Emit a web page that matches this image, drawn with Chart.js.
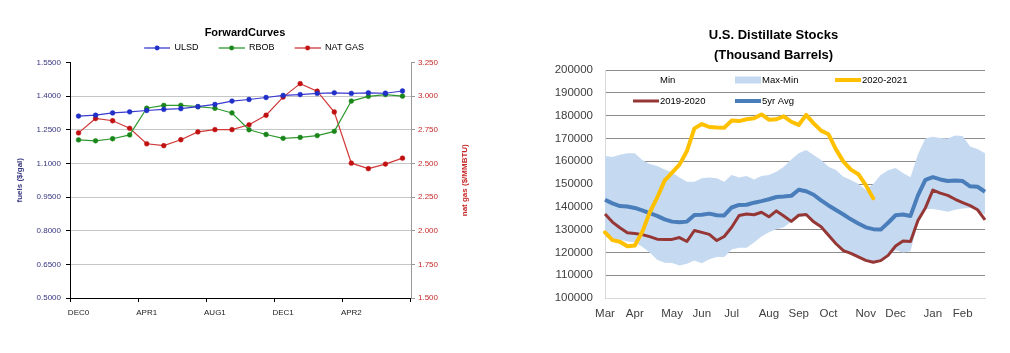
<!DOCTYPE html>
<html>
<head>
<meta charset="utf-8">
<script src="https://cdn.jsdelivr.net/npm/chart.js@4"></script>
<style>
  html, body { margin: 0; padding: 0; background: #fff; }
  body { width: 1010px; height: 353px; position: relative; overflow: hidden; }
  .box { position: absolute; top: 0; height: 353px; }
  #leftBox { left: 0; width: 490px; }
  #rightBox { left: 537px; width: 473px; }
</style>
</head>
<body>
<div class="box" id="leftBox"><canvas id="fwdChart"></canvas></div>
<div class="box" id="rightBox"><canvas id="stocksChart"></canvas></div>
<script>
// --- Forward curves (links) ---
const fwdMonths = ['DEC0', 'JAN1', 'FEB1', 'MAR1', 'APR1', 'MAY1', 'JUN1', 'JUL1', 'AUG1', 'SEP1',
                   'OCT1', 'NOV1', 'DEC1', 'JAN2', 'FEB2', 'MAR2', 'APR2', 'MAY2', 'JUN2', 'JUL2'];
const ulsd   = [1.311, 1.315, 1.325, 1.330, 1.336, 1.341, 1.344, 1.353, 1.363, 1.378,
                1.385, 1.394, 1.403, 1.407, 1.412, 1.415, 1.412, 1.415, 1.413, 1.423];
const rbob   = [1.205, 1.201, 1.210, 1.227, 1.346, 1.359, 1.359, 1.353, 1.346, 1.325,
                1.250, 1.229, 1.212, 1.216, 1.224, 1.243, 1.378, 1.399, 1.407, 1.400];
const natGas = [2.727, 2.834, 2.817, 2.761, 2.646, 2.632, 2.676, 2.734, 2.751, 2.751,
                2.787, 2.858, 2.993, 3.093, 3.037, 2.882, 2.502, 2.461, 2.495, 2.539];

// --- Distillate stocks (rechts), Wochenwerte ab Anfang März ---
const stockMonths    = ['Mar', 'Apr', 'May', 'Jun', 'Jul', 'Aug', 'Sep', 'Oct', 'Nov', 'Dec', 'Jan', 'Feb'];
const monthStartWeek = [0, 4, 9, 13, 17, 22, 26, 30, 35, 39, 44, 48];
const stocksMin = [127000, 126000, 125500, 124800, 124500, 122500, 120000, 116800, 115500, 115300,
                   114300, 115000, 116500, 115200, 117000, 118000, 118000, 121300, 122000, 122000,
                   124300, 127000, 128800, 130200, 131000, 133500, 135500, 136000, 133000, 131000,
                   127300, 123600, 120600, 119400, 117800, 116300, 115500, 116200, 118500, 121000,
                   120000, 120500, 133000, 139000, 139000, 138500, 137800, 138700, 139300, 139500,
                   138500, 136500];
const stocksMax = [162300, 161800, 162800, 163500, 163500, 160500, 158800, 157900, 156400, 155000,
                   152900, 151000, 151000, 152500, 152900, 152500, 151000, 153900, 152900, 153500,
                   152000, 153500, 153900, 155400, 157600, 160800, 163500, 164900, 162700, 160500,
                   157600, 156100, 153200, 151800, 150000, 147500, 150000, 154000, 156000, 157000,
                   154800, 153000, 163000, 170000, 170700, 170200, 170000, 171300, 171000, 166400,
                   165300, 163500];
const stocks2021 = [128800, 125400, 124700, 122700, 123000, 129000, 137500, 144000, 151500, 155000,
                    158500, 164500, 174400, 176300, 175000, 174800, 174700, 177800, 177600, 178400,
                    178800, 180500, 178200, 178400, 179700, 177300, 175900, 180300, 176600, 173400,
                    171800, 165200, 159800, 156300, 154300, 149500, 143700];
const stocks1920 = [136800, 133300, 130800, 128600, 128300, 127800, 126900, 125800, 125700, 125700,
                    126500, 124800, 129600, 128800, 127900, 125200, 127000, 131000, 136200, 136800,
                    136500, 137600, 135600, 138200, 136000, 133600, 136300, 136600, 133400, 131200,
                    127500, 123800, 120800, 119600, 118000, 116500, 115700, 116400, 118700, 122800,
                    125000, 124800, 134000, 139500, 147300, 146000, 145000, 143300, 141800, 140500,
                    138700, 134300];
const stocks5yr  = [143100, 141500, 140300, 140100, 139500, 138400, 137200, 136000, 134500, 133500,
                    133200, 133500, 136400, 136500, 137000, 136300, 136200, 139700, 140800, 140900,
                    141800, 142500, 143300, 144300, 144500, 144800, 147500, 146800, 145300, 142800,
                    140600, 138600, 136600, 134500, 132700, 131000, 130200, 130000, 133000, 136300,
                    136600, 136000, 145000, 151800, 153000, 152000, 151300, 151500, 151300, 149000,
                    148800, 146600];

Chart.defaults.font.family = "'Liberation Sans', Arial, sans-serif";
Chart.defaults.animation = false;
Chart.defaults.events = [];

const CLEAR = 'rgba(0,0,0,0)';

// Legendensymbol im Excel-Stil: Linie mit Punkt (links etwas Luft als Abstand)
function legendIcon(lineColor, dotColor) {
    const c = document.createElement('canvas');
    c.width = 44; c.height = 8;
    const g = c.getContext('2d');
    g.strokeStyle = lineColor;
    g.lineWidth = 1.3;
    g.beginPath(); g.moveTo(18, 4); g.lineTo(44, 4); g.stroke();
    g.fillStyle = dotColor;
    g.beginPath(); g.arc(31, 4, 2.4, 0, Math.PI * 2); g.fill();
    return c;
}

// Titel der rechten Achse, von unten nach oben gelesen wie links
const rightAxisTitle = {
    id: 'rightAxisTitle',
    afterDraw(chart, args, opts) {
        const { ctx, chartArea } = chart;
        ctx.save();
        ctx.translate(opts.x, (chartArea.top + chartArea.bottom) / 2);
        ctx.rotate(-Math.PI / 2);
        ctx.font = opts.font;
        ctx.fillStyle = opts.color;
        ctx.textAlign = 'center';
        ctx.textBaseline = 'middle';
        ctx.fillText(opts.text, 0, 0);
        ctx.restore();
    }
};

// Legende innerhalb der Zeichenfläche (zwei Zeilen, feste Spalten)
const insideLegend = {
    id: 'insideLegend',
    afterDraw(chart, args, opts) {
        const { ctx, chartArea } = chart;
        ctx.save();
        ctx.font = opts.font;
        ctx.textBaseline = 'middle';
        chart.data.datasets.forEach((ds, i) => {
            const x = chartArea.left + opts.columns[i % 3];
            const y = chartArea.top + opts.rows[Math.floor(i / 3)];
            if (ds.legendSymbol === 'box') {
                ctx.fillStyle = ds.backgroundColor;
                ctx.fillRect(x, y - 3.5, 26, 7);
            } else if (ds.legendSymbol === 'line') {
                ctx.strokeStyle = ds.borderColor;
                ctx.lineWidth = ds.borderWidth;
                ctx.beginPath(); ctx.moveTo(x, y); ctx.lineTo(x + 26, y); ctx.stroke();
            }
            ctx.fillStyle = opts.color;
            ctx.fillText(ds.label, x + 27, y + 0.5);
        });
        ctx.restore();
    }
};

const near = (a, b) => Math.abs(a - b) < 1e-6;

function drawForwardCurves() {
    const icons = [
        legendIcon('#3b3bd0', '#1f2fc8'),
        legendIcon('#2e9a2e', '#1a861a'),
        legendIcon('#d03838', '#c01010')
    ];

    new Chart(document.getElementById('fwdChart').getContext('2d'), {
        type: 'line',
        data: {
            labels: fwdMonths,
            datasets: [
                { label: 'ULSD', data: ulsd, yAxisID: 'y', borderColor: '#3b3bd0', borderWidth: 1.2,
                  pointRadius: 2.4, pointBackgroundColor: '#1f2fc8', pointBorderColor: '#1f2fc8', pointBorderWidth: 0.5 },
                { label: 'RBOB', data: rbob, yAxisID: 'y', borderColor: '#2e9a2e', borderWidth: 1.2,
                  pointRadius: 2.4, pointBackgroundColor: '#1a861a', pointBorderColor: '#1a861a', pointBorderWidth: 0.5 },
                { label: 'NAT GAS', data: natGas, yAxisID: 'y1', borderColor: '#d03838', borderWidth: 1.2,
                  pointRadius: 2.4, pointBackgroundColor: '#c01010', pointBorderColor: '#c01010', pointBorderWidth: 0.5 }
            ]
        },
        options: {
            responsive: true,
            maintainAspectRatio: false,
            layout: { padding: 0 },
            plugins: {
                tooltip: { enabled: false },
                legend: {
                    position: 'top',
                    title: { display: true, text: 'ForwardCurves', color: '#000',
                             font: { size: 11, weight: 'bold' }, padding: { top: 27.5, bottom: 0.8 } },
                    labels: {
                        usePointStyle: true,
                        pointStyleWidth: 44,
                        padding: 2,
                        color: '#000',
                        font: { size: 9 },
                        generateLabels: (chart) => {
                            const items = Chart.defaults.plugins.legend.labels.generateLabels(chart);
                            items.forEach(it => { it.pointStyle = icons[it.datasetIndex]; });
                            return items;
                        }
                    }
                },
                rightAxisTitle: { text: 'nat gas ($/MMBTU)', x: 465, color: '#c62828',
                                  font: "bold 8px 'Liberation Sans', Arial, sans-serif" }
            },
            scales: {
                x: {
                    type: 'category',
                    offset: true,
                    grid: {
                        offset: true, drawOnChartArea: false, tickLength: 4,
                        color: (c) => (c.index === undefined || c.index % 4 === 0) ? '#000' : CLEAR
                    },
                    border: { color: '#000' },
                    ticks: {
                        autoSkip: false, maxRotation: 0, padding: 6, color: '#222', font: { size: 8 },
                        callback: function (v, i) { return i % 4 === 0 ? this.getLabelForValue(v) : ''; }
                    },
                    afterFit: (s) => { s.height = 55; }
                },
                y: {
                    position: 'left', min: 0.5, max: 1.55,
                    ticks: { stepSize: 0.15, padding: 5, color: '#35357f', font: { size: 8 },
                             callback: (v) => v.toFixed(4) },
                    grid: {
                        color: (c) => (near(c.tick.value, 0.5) || near(c.tick.value, 1.55)) ? CLEAR : '#c6c6c6',
                        tickColor: '#000', tickLength: 4
                    },
                    border: { color: '#000' },
                    title: { display: true, text: 'fuels ($/gal)', color: '#35357f',
                             font: { size: 8, weight: 'bold' }, padding: { top: 15, bottom: 0 } },
                    afterFit: (s) => { s.width = 70; }
                },
                y1: {
                    position: 'right', min: 1.5, max: 3.25,
                    ticks: { stepSize: 0.25, padding: 3, color: '#c62828', font: { size: 8 },
                             callback: (v) => v.toFixed(3) },
                    grid: { drawOnChartArea: false, tickColor: '#999', tickLength: 4 },
                    border: { color: '#999' },
                    afterFit: (s) => { s.width = 79; }
                }
            }
        },
        plugins: [rightAxisTitle]
    });
}

function drawDistillateStocks() {
    // Wochenbeschriftung: Monatsname in der ersten Woche des Monats
    const weekLabels = stocksMin.map((_, i) => {
        const m = monthStartWeek.indexOf(i);
        return m >= 0 ? stockMonths[m] : '';
    });

    new Chart(document.getElementById('stocksChart').getContext('2d'), {
        type: 'line',
        data: {
            labels: weekLabels,
            datasets: [
                { label: 'Min', data: stocksMin, borderColor: CLEAR, borderWidth: 0, pointRadius: 0,
                  fill: false, order: 4, legendSymbol: 'none' },
                { label: 'Max-Min', data: stocksMax, borderColor: CLEAR, borderWidth: 0, pointRadius: 0,
                  backgroundColor: '#c5d9f1', fill: '-1', order: 3, legendSymbol: 'box' },
                { label: '2020-2021', data: stocks2021, borderColor: '#ffc000', borderWidth: 4, pointRadius: 0,
                  borderJoinStyle: 'round', borderCapStyle: 'round', order: 0, legendSymbol: 'line' },
                { label: '2019-2020', data: stocks1920, borderColor: '#953735', borderWidth: 3, pointRadius: 0,
                  borderJoinStyle: 'round', order: 1, legendSymbol: 'line' },
                { label: '5yr Avg', data: stocks5yr, borderColor: '#4a7ebb', borderWidth: 4, pointRadius: 0,
                  borderJoinStyle: 'round', order: 2, legendSymbol: 'line' }
            ]
        },
        options: {
            responsive: true,
            maintainAspectRatio: false,
            layout: { padding: 0 },
            plugins: {
                tooltip: { enabled: false },
                legend: { display: false },
                title: {
                    display: true,
                    text: ['U.S. Distillate Stocks', '(Thousand Barrels)'],
                    color: '#000',
                    font: { size: 13, weight: 'bold', lineHeight: 20 / 13 },
                    padding: { top: 25, bottom: 5 }
                },
                insideLegend: { font: "9.5px 'Liberation Sans', Arial, sans-serif", color: '#000',
                                columns: [28, 130, 230], rows: [10, 31] }
            },
            scales: {
                x: {
                    type: 'category',
                    grid: { display: false, drawTicks: false },
                    border: { color: '#d9d9d9' },
                    ticks: { autoSkip: false, maxRotation: 0, padding: 9, color: '#404040', font: { size: 11.5 } },
                    afterFit: (s) => { s.height = 55; }
                },
                y: {
                    min: 100000, max: 200000,
                    ticks: { stepSize: 10000, padding: 12, color: '#404040', font: { size: 11.5 },
                             callback: (v) => String(v) },
                    grid: { drawTicks: false, color: (c) => c.tick.value === 100000 ? '#d9d9d9' : '#8c8c8c' },
                    border: { color: '#d9d9d9' },
                    afterFit: (s) => { s.width = 68; }
                },
                // leerer Rand rechts, damit der Titel über der ganzen Grafik zentriert bleibt
                margin: {
                    position: 'right', display: true,
                    ticks: { display: false },
                    grid: { display: false, drawTicks: false },
                    border: { display: false },
                    afterFit: (s) => { s.width = 25; }
                }
            }
        },
        plugins: [insideLegend]
    });
}

window.onload = () => {
    drawForwardCurves();
    drawDistillateStocks();
};
</script>
</body>
</html>
